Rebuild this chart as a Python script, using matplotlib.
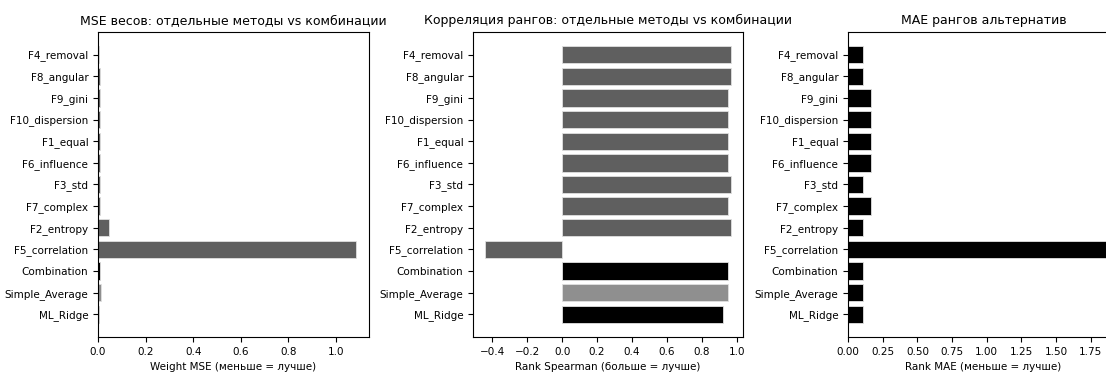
import matplotlib
matplotlib.use('Agg')
import matplotlib.pyplot as plt

# Данные (сверху вниз как на графике)
methods = ['F4_removal', 'F8_angular', 'F9_gini', 'F10_dispersion', 'F1_equal',
           'F6_influence', 'F3_std', 'F7_complex', 'F2_entropy', 'F5_correlation',
           'Combination', 'Simple_Average', 'ML_Ridge']
weight_mse = [0.005, 0.007, 0.007, 0.007, 0.007, 0.007, 0.007, 0.007, 0.046, 1.084,
              0.008, 0.013, 0.005]
rank_spearman = [0.966, 0.966, 0.952, 0.952, 0.952, 0.952, 0.966, 0.952, 0.966, -0.441,
                 0.952, 0.952, 0.924]
rank_mae = [0.111, 0.111, 0.167, 0.167, 0.167, 0.167, 0.111, 0.167, 0.111, 1.86,
            0.111, 0.111, 0.111]
bar_colors = ['#5f5f5f'] * 10 + ['#000000', '#8f8f8f', '#000000']
mae_colors = ['#000000'] * 13

plt.rcParams['font.size'] = 8

fig = plt.figure(figsize=(11.06, 3.72), dpi=100)
W, H = 1106, 372

def make_ax(left_px, width_px):
    return fig.add_axes([left_px / W, 35 / H, width_px / W, 305 / H])

ax1 = make_ax(98, 271)
ax2 = make_ax(473, 270)
ax3 = make_ax(848, 271)

y = list(range(len(methods)))[::-1]
edge = dict(edgecolor='#e0e0e0', linewidth=0.6)

ax1.barh(y, weight_mse, color=bar_colors, **edge)
ax1.set_title('MSE весов: отдельные методы vs комбинации', fontsize=9)
ax1.set_xlabel('Weight MSE (меньше = лучше)', fontsize=7.5)

ax2.barh(y, rank_spearman, color=bar_colors, **edge)
ax2.set_title('Корреляция рангов: отдельные методы vs комбинации', fontsize=9)
ax2.set_xlabel('Rank Spearman (больше = лучше)', fontsize=7.5)

ax3.barh(y, rank_mae, color=mae_colors, **edge)
ax3.set_title('MAE рангов альтернатив', fontsize=9)
ax3.set_xlabel('Rank MAE (меньше = лучше)', fontsize=7.5)

for ax in (ax1, ax2, ax3):
    ax.set_yticks(y)
    ax.set_yticklabels(methods)
    ax.tick_params(labelsize=7.5)

fig.savefig('out.png', dpi=100)
